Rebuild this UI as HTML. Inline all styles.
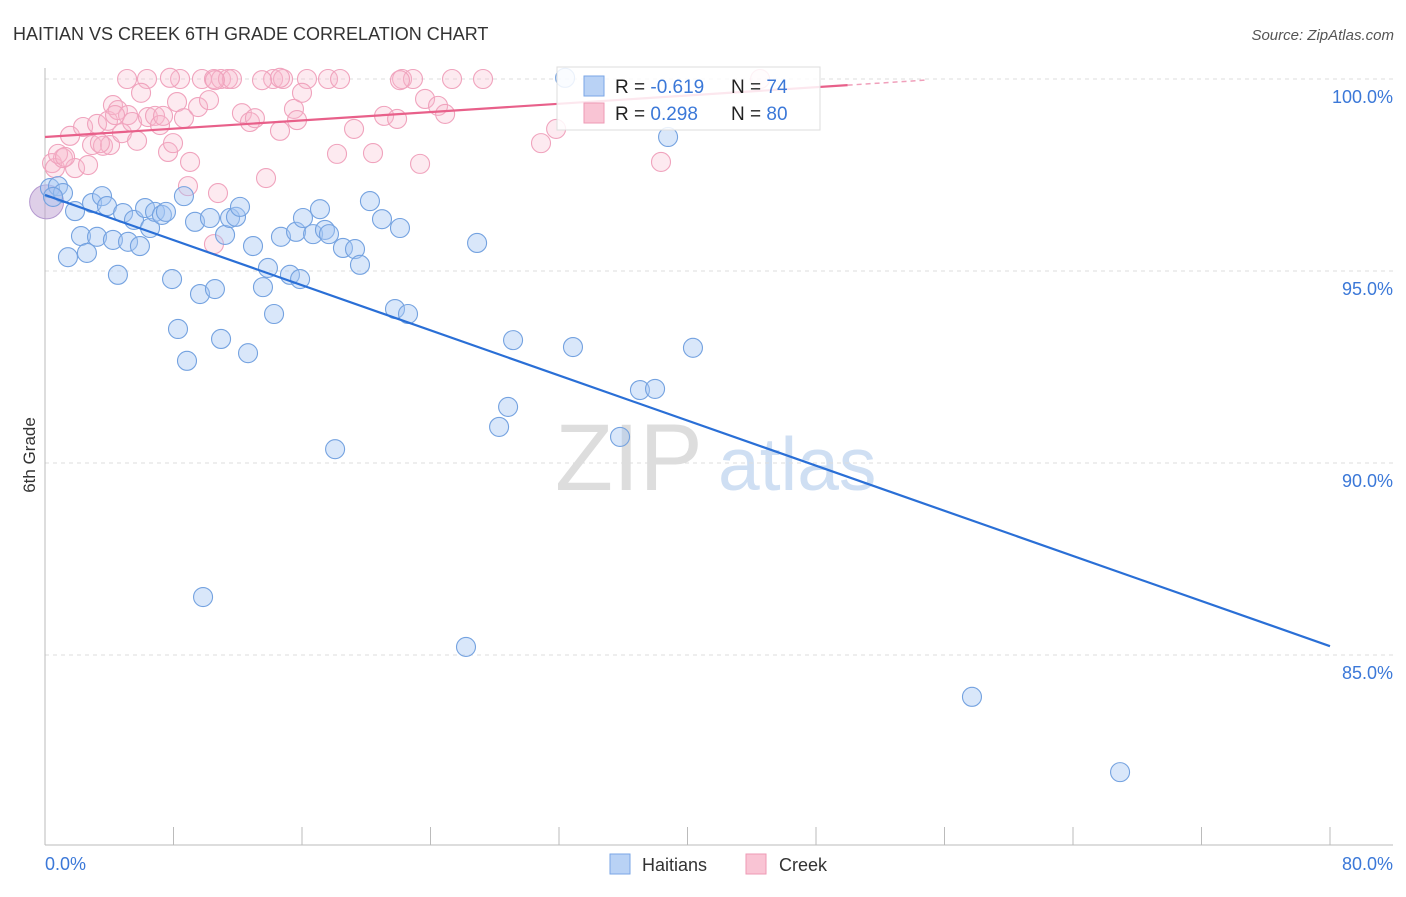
<!DOCTYPE html>
<html><head><meta charset="utf-8"><style>
body{margin:0;background:#fff;font-family:"Liberation Sans",sans-serif}
svg text{font-family:"Liberation Sans",sans-serif}
</style></head><body>
<svg width="1406" height="892" xmlns="http://www.w3.org/2000/svg">
<text x="13" y="40" font-size="18" fill="#333">HAITIAN VS CREEK 6TH GRADE CORRELATION CHART</text>
<text x="1394" y="40" font-size="15" fill="#555" font-style="italic" text-anchor="end">Source: ZipAtlas.com</text>
<text x="35" y="455" font-size="17" fill="#333" transform="rotate(-90 35 455)" text-anchor="middle">6th Grade</text>
<g><text x="555" y="490" font-size="95" fill="#ddd" font-family="Liberation Serif">ZIP</text><text x="718" y="490" font-size="75" fill="#cfdff3">atlas</text></g>
<g id="grid"></g><g id="axes"></g><g id="pts"></g><g id="lines"></g>
<g>
<rect x="557" y="67" width="263" height="63" fill="#fff" fill-opacity="0.85" stroke="#ddd"/>
<rect x="584" y="76" width="20" height="20" fill="#b9d2f5" stroke="#7aa6e6"/>
<rect x="584" y="103" width="20" height="20" fill="#f9c4d4" stroke="#ee9ab5"/>
<text x="615" y="93" font-size="19" fill="#222">R = <tspan fill="#3b78d8">-0.619</tspan></text>
<text x="731" y="93" font-size="19" fill="#222">N = <tspan fill="#3b78d8">74</tspan></text>
<text x="615" y="120" font-size="19" fill="#222">R = <tspan fill="#3b78d8"> 0.298</tspan></text>
<text x="731" y="120" font-size="19" fill="#222">N = <tspan fill="#3b78d8">80</tspan></text>
</g>
<g>
<rect x="610" y="854" width="20" height="20" fill="#b9d2f5" stroke="#7aa6e6"/>
<text x="642" y="871" font-size="18" fill="#333">Haitians</text>
<rect x="746" y="854" width="20" height="20" fill="#f9c4d4" stroke="#ee9ab5"/>
<text x="779" y="871" font-size="18" fill="#333">Creek</text>
</g>
</svg>
<script>
const blueX=[0.31,0.81,1.12,0.50,1.87,1.43,2.24,2.61,3.24,2.93,3.55,3.86,4.23,4.54,4.86,5.17,5.54,5.91,6.23,6.54,6.85,7.28,7.53,7.91,8.28,8.65,8.84,9.34,9.65,9.84,10.27,10.58,10.96,11.21,11.52,11.89,12.14,12.64,12.95,13.57,13.88,14.26,14.69,15.25,15.63,15.88,16.06,16.69,17.12,17.43,17.68,18.06,18.55,19.30,19.61,20.23,20.98,21.79,22.10,22.60,26.21,26.90,28.27,28.83,29.14,32.38,32.87,35.80,37.04,37.98,38.79,40.34,57.71,66.93];
const blueY=[97.16,97.21,97.03,96.93,96.56,95.36,95.91,95.47,95.89,96.77,96.95,96.69,95.81,94.90,96.51,95.76,96.33,95.65,96.64,96.12,96.54,96.46,96.54,94.79,93.49,96.95,92.66,96.28,94.40,86.51,96.38,94.53,93.23,95.94,96.38,96.41,96.67,92.86,95.65,94.58,95.08,93.88,95.89,94.90,96.02,94.79,96.38,95.96,96.61,96.07,95.96,90.36,95.60,95.57,95.16,96.82,96.35,94.01,96.12,93.88,85.21,95.73,90.94,91.46,93.20,100.03,93.02,90.68,91.90,91.93,98.49,93.0,83.91,81.95];
const pinkX=[5.11,6.35,8.41,9.77,10.52,10.96,11.39,11.64,14.20,14.82,16.31,17.62,18.37,22.23,22.91,25.34,27.27,44.52,7.78,14.63,13.51,22.10,10.58,0.44,0.62,1.12,0.81,1.56,1.87,2.37,2.68,2.93,3.24,3.61,3.92,4.05,4.23,4.54,4.79,5.17,5.42,5.73,5.98,6.41,6.85,7.16,7.35,7.66,7.97,8.22,8.65,8.90,9.03,9.53,10.21,10.52,10.77,12.26,12.76,13.07,13.76,14.63,15.50,15.69,16.00,18.18,19.24,20.42,21.11,21.92,23.35,23.66,24.47,24.91,30.88,31.82,38.35,4.36,3.42,1.25];
const pinkY=[100,100,100,100,100,100,100,100,100,100,100,100,100,100,100,100,100,100,100.03,100.03,99.97,99.97,99.97,97.81,97.68,97.94,98.05,98.52,97.68,98.75,97.76,98.28,98.83,98.26,98.91,98.28,99.32,99.19,98.59,99.06,98.88,98.39,99.64,99.01,99.04,98.80,99.04,98.10,98.33,99.40,98.98,97.21,97.84,99.27,99.45,95.70,97.03,99.11,98.88,98.98,97.42,98.65,99.22,98.93,99.64,98.05,98.70,98.07,99.04,98.96,97.79,99.48,99.30,99.09,98.33,98.70,97.84,99.06,98.33,97.97];
const blueTrend=[[0,96.98],[80,85.23]];
const pinkTrend=[[0,98.49],[49.97,99.84]];
const yTicks=[100,95,90,85];
const yTickLabels=["100.0%","95.0%","90.0%","85.0%"];
const xTicks=[0,8,16,24,32,40,48,56,64,72,80];
const NS="http://www.w3.org/2000/svg";
const sx=v=>45+v/80*1285, sy=v=>79+(100-v)*38.4;
function mk(tag,attrs,parent){const e=document.createElementNS(NS,tag);for(const k in attrs)e.setAttribute(k,attrs[k]);document.getElementById(parent).appendChild(e);return e;}
yTicks.forEach((t,i)=>{
 const l=mk('line',{x1:45,x2:1393,y1:sy(t),y2:sy(t),stroke:'#ddd','stroke-dasharray':'4,4'},'grid');
 
 
 const tx=mk('text',{x:1393,y:sy(t)+24,'font-size':18,fill:'#3b78d8','text-anchor':'end'},'grid');
 tx.textContent=yTickLabels[i];
 
 
});
let a=mk('line',{x1:45,x2:45,y1:68,y2:845,stroke:'#bbb'},'axes');


a=mk('line',{x1:45,x2:1393,y1:845,y2:845,stroke:'#bbb'},'axes');


xTicks.forEach(t=>{const l=mk('line',{x1:sx(t),x2:sx(t),y1:827,y2:845,stroke:'#bbb'},'axes');
 
 });
let t0=mk('text',{x:45,y:870,'font-size':18,fill:'#3b78d8'},'axes');t0.textContent='0.0%';


let t1=mk('text',{x:1393,y:870,'font-size':18,fill:'#3b78d8','text-anchor':'end'},'axes');t1.textContent='80.0%';


let big=mk('circle',{cx:sx(0.1),cy:sy(96.8),r:17,fill:'rgba(190,160,210,0.5)',stroke:'#b59ad0'},'pts');


pinkX.forEach((x,i)=>{const c=mk('circle',{cx:sx(x),cy:sy(pinkY[i]),r:9.5,fill:'rgba(248,185,205,0.3)',stroke:'#f0a3bd','stroke-width':1.1},'pts');
 
 });
blueX.forEach((x,i)=>{const c=mk('circle',{cx:sx(x),cy:sy(blueY[i]),r:9.5,fill:'rgba(165,198,242,0.42)',stroke:'#74a2e0','stroke-width':1.1},'pts');
 
 });
let bl=mk('line',{x1:sx(blueTrend[0][0]),y1:sy(blueTrend[0][1]),x2:sx(blueTrend[1][0]),y2:sy(blueTrend[1][1]),stroke:'#2a6fd6','stroke-width':2.2},'lines');


let pl=mk('line',{x1:sx(pinkTrend[0][0]),y1:sy(pinkTrend[0][1]),x2:sx(pinkTrend[1][0]),y2:sy(pinkTrend[1][1]),stroke:'#e8608a','stroke-width':2.2},'lines');


const slope=(pinkTrend[1][1]-pinkTrend[0][1])/(pinkTrend[1][0]-pinkTrend[0][0]);
const ex=55;
let pd=mk('line',{x1:sx(pinkTrend[1][0]),y1:sy(pinkTrend[1][1]),x2:sx(ex),y2:sy(pinkTrend[0][1]+slope*ex),stroke:'#f0a0bb','stroke-width':1.5,'stroke-dasharray':'5,4'},'lines');


</script>
</body></html>
